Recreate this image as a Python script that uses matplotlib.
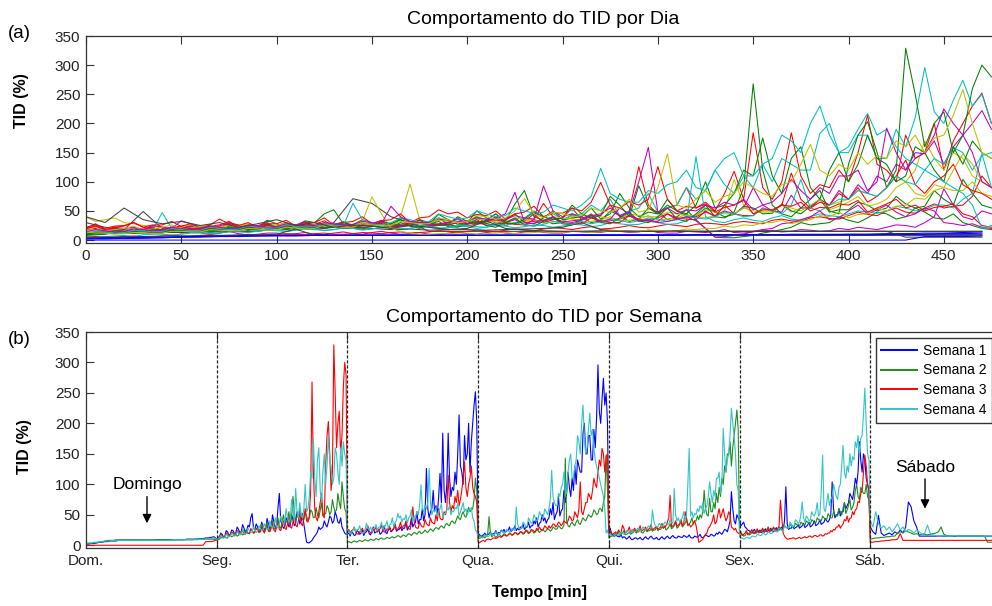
import numpy as np
import matplotlib
matplotlib.use("Agg")
import matplotlib.pyplot as plt

plt.rcParams['font.family'] = ['Liberation Sans', 'DejaVu Sans']

# ---------------- data (TID %, one day = 480 min; weekdays every 5 min, weekend every 10 min) ----------------
day_labels = ['Dom.', 'Seg.', 'Ter.', 'Qua.', 'Qui.', 'Sex.', 'Sáb.']
week_labels = ['Semana 1', 'Semana 2', 'Semana 3', 'Semana 4']

# Semana 1
w1_dom = [2,2,3,3,4,5,5,6,6,7,7,7,8,8,8,8,8,8,8,8,8,8,8,8,8,8,9,9,9,9,9,9,9,9,9,9,9,10,10,10,10,10,11,11,12,12,13,14]
w1_seg = [10,13,14,20,18,12,15,24,22,16,18,25,24,19,20,30,26,21,22,34,28,20,24,33,30,45,52,28,26,35,30,22,24,38,32,25,28,44,35,27,
          30,50,38,29,32,62,85,40,34,28,30,45,40,30,33,50,42,32,36,55,48,35,40,52,35,20,5,4,4,6,8,12,15,18,22,30,26,28,30,40,
          34,30,38,48,45,36,40,55,48,38,36,45,30,25,20,18]
w1_ter = [18,20,15,22,20,16,17,24,22,18,20,25,16,21,22,27,19,17,24,30,20,22,22,26,18,20,24,32,21,19,25,28,22,24,27,35,23,25,26,30,
          24,28,28,38,25,30,32,45,30,35,38,55,35,42,42,60,40,50,126,60,45,55,60,90,55,65,50,80,118,70,184,90,70,100,184,110,80,95,90,120,
          100,150,214,130,120,100,180,140,150,200,120,170,200,230,252,200]
w1_qua = [15,18,14,16,17,20,16,18,18,22,17,19,19,24,18,21,20,25,22,26,21,24,24,30,22,25,26,32,24,28,25,30,28,35,26,29,30,38,28,32,
          32,40,35,45,30,36,38,50,40,45,36,42,45,60,50,70,42,50,55,80,48,56,60,90,70,85,120,95,80,110,90,130,100,140,130,120,120,183,200,150,
          150,180,180,140,140,190,160,210,296,220,200,240,274,230,250,200]
w1_qui = [20,28,18,16,16,20,15,14,14,17,12,14,13,10,12,15,11,9,10,12,12,10,11,13,10,9,12,14,11,10,13,15,12,10,11,13,10,9,12,14,
          11,10,13,15,12,11,14,16,13,12,12,15,14,13,13,16,15,13,14,17,13,12,12,15,14,13,15,18,13,12,14,17,16,14,15,18,17,15,16,20,
          18,22,20,18,22,26,25,22,30,40,88,60,40,35,50,45]
w1_sex = [40,32,35,38,30,28,25,24,22,20,24,26,20,22,23,25,21,22,24,27,22,24,25,28,23,22,26,29,24,25,27,30,25,40,96,35,26,28,28,32,
          27,29,30,34,28,30,32,36,29,31,33,38,30,32,35,40,32,34,36,42,34,36,38,44,40,38,42,50,104,60,45,50,50,60,48,55,55,70,60,65,
          70,85,80,75,90,110,100,120,170,140,120,150,140,110,100,90]
w1_sab = [30,22,18,49,20,16,18,20,17,22,19,25,20,30,71,63,40,30,15,15,15,15,15,15,15,15,15,15,15,15,15,15,15,15,15,15,15,15,15,15,15,15,15,15,15,15,15,15]

# Semana 2
w2_dom = [3,3,3,4,4,5,6,7,8,8,8,9,9,9,9,9,9,9,9,9,9,9,9,9,9,9,9,9,9,9,9,9,9,9,9,9,9,9,9,9,10,10,10,10,10,10,10,10]
w2_seg = [8,9,10,13,12,15,14,12,12,18,16,14,15,20,18,15,16,22,20,17,18,25,22,19,20,27,24,20,22,28,25,22,28,35,24,22,30,38,26,24,
          32,40,28,26,34,45,30,28,38,50,35,38,40,55,36,45,80,55,40,48,45,60,50,42,42,55,48,40,44,58,55,45,46,62,50,45,58,70,48,52,
          52,65,60,50,55,75,62,55,58,85,70,60,104,80,60,55]
w2_ter = [5,6,5,4,6,7,6,5,7,8,7,6,8,9,8,7,8,10,9,8,9,11,10,9,11,12,10,10,11,13,12,11,13,14,12,13,14,16,15,13,
          15,17,16,14,17,19,18,16,19,21,20,18,21,23,19,20,22,25,22,21,24,27,25,23,27,29,28,26,30,32,30,28,34,36,33,32,38,40,37,36,
          42,48,44,42,50,55,48,46,55,62,55,58,60,75,110,90]
w2_qua = [10,12,12,15,14,12,15,18,47,20,14,16,16,13,15,18,17,14,16,19,18,15,17,20,19,16,18,21,20,17,19,22,21,18,20,23,22,19,21,24,
          23,20,22,25,24,21,23,26,25,22,24,27,26,23,25,30,28,26,27,32,30,27,28,33,143,40,32,30,35,38,34,32,38,42,36,34,40,45,42,40,
          45,50,48,46,50,58,55,50,52,60,60,55,70,80,148,90]
w2_qui = [12,14,15,18,14,16,18,22,16,18,20,24,17,18,19,22,18,20,21,25,20,22,22,26,21,20,23,27,22,24,24,28,23,25,25,30,24,26,26,30,
          28,32,25,27,30,35,27,29,32,38,28,30,34,40,30,33,36,42,32,35,38,45,35,40,40,48,42,50,45,55,90,60,50,48,77,55,55,70,60,85,
          70,95,80,110,100,130,120,150,148,170,130,160,180,200,222,190]
w2_sex = [15,17,18,15,16,20,20,17,18,22,22,19,20,24,24,21,22,26,25,23,23,27,26,24,24,28,27,25,25,30,28,26,26,32,30,28,28,34,32,30,
          30,36,34,31,31,38,36,34,33,40,38,36,35,42,40,37,37,45,42,40,40,48,45,42,42,52,48,45,45,55,50,48,48,60,55,50,60,70,52,58,
          65,75,58,62,70,90,100,80,75,95,90,85,85,100,80,75]
w2_sab = [10,11,12,12,13,13,14,14,15,15,20,22,21,23,22,20,18,19,17,18,18,17,18,19,20,22,30,18,16,15,15,15,15,15,15,15,15,15,15,15,15,15,15,5,5,5,5,5]

# Semana 3
w3_dom = [0,0,0,0,0,0,0,0,0,0,0,0,0,0,0,0,0,0,0,0,0,0,0,0,0,0,0,0,0,0,0,0,0,0,0,0,0,0,0,0,0,0,0,0,6,6,6,7]
w3_seg = [10,11,12,18,15,13,14,20,18,15,16,22,20,16,17,24,22,18,18,26,20,18,24,20,19,27,25,20,21,28,26,21,22,30,24,20,27,32,23,22,
          28,35,25,22,30,38,26,24,32,40,28,26,35,45,30,28,38,48,33,30,40,55,36,32,45,60,40,38,48,90,268,120,60,45,40,55,70,85,50,45,
          130,180,203,150,90,120,329,250,160,200,220,150,180,260,300,280]
w3_ter = [22,26,20,24,25,30,22,19,18,22,24,28,21,24,26,32,23,21,20,26,25,30,22,25,27,33,24,22,21,27,26,31,23,25,28,34,25,27,30,38,
          27,32,32,40,29,27,26,35,63,40,30,28,28,38,33,30,30,42,36,33,32,45,38,36,35,50,40,60,45,42,42,55,50,60,115,70,55,65,60,80,
          70,90,65,75,90,110,137,95,80,100,110,130,95,85,80,70]
w3_qua = [5,4,6,7,8,6,9,10,10,9,10,12,12,11,12,14,14,13,15,17,16,15,17,19,18,17,18,21,20,18,19,22,22,20,20,25,24,21,21,26,
          25,23,22,28,25,30,26,24,27,32,29,27,32,28,31,35,34,30,33,38,36,32,35,40,38,36,40,48,45,40,42,55,50,45,60,104,55,50,60,70,
          70,85,80,75,90,110,100,95,120,140,130,159,150,120,145,150]
w3_qui = [18,24,16,19,20,22,18,25,22,20,33,28,20,22,24,30,21,23,25,28,22,24,26,32,23,25,27,30,24,26,28,34,25,27,29,31,26,28,30,36,
          28,30,32,38,45,82,30,32,34,40,31,33,35,42,32,36,55,45,33,35,30,32,36,40,33,20,5,6,8,10,15,18,20,28,30,35,40,50,35,38,
          50,60,45,52,60,48,40,45,55,50,30,28,25,28,22,20]
w3_sex = [18,22,16,18,20,24,17,19,22,26,19,21,23,27,20,22,24,28,21,23,25,30,22,24,26,30,23,25,27,32,74,45,20,15,12,10,10,11,11,12,
          12,10,11,12,13,11,12,13,14,12,13,15,15,13,14,16,16,14,15,17,17,15,16,19,18,20,20,24,22,26,25,30,30,34,28,32,35,42,40,48,
          38,44,45,55,50,58,60,72,70,85,90,120,148,130,100,90]
w3_sab = [5,5,6,6,7,7,8,8,9,9,10,19,8,8,8,8,8,8,8,8,8,8,8,8,8,8,8,8,8,8,8,8,8,8,8,8,8,8,8,8,8,8,8,8,8,8,8,8]

# Semana 4
w4_dom = [3,4,4,5,5,6,6,7,7,7,8,8,8,8,8,8,8,8,8,8,8,8,8,8,8,8,8,8,8,8,8,8,9,9,9,9,9,9,9,9,9,9,10,10,10,11,11,12]
w4_seg = [10,11,12,16,14,12,13,18,16,14,15,20,18,15,16,22,20,17,18,26,22,18,20,28,24,20,22,30,26,21,23,32,28,24,25,35,30,26,27,40,
          32,28,34,45,30,28,36,48,40,35,38,60,45,38,42,75,60,40,93,55,45,70,50,45,60,100,55,60,80,120,110,175,110,80,140,160,90,70,120,150,
          100,130,180,140,130,100,110,160,150,120,100,160,130,170,150,140]
w4_ter = [20,24,18,22,24,30,22,26,26,32,23,20,20,26,36,28,25,30,22,28,28,34,24,30,30,38,26,30,32,40,28,33,35,45,30,38,40,52,45,48,
          38,44,42,50,36,45,48,58,40,47,46,55,50,65,99,60,55,66,60,70,126,70,50,58,55,62,48,56,60,68,45,52,52,60,58,65,50,56,55,62,
          60,68,48,55,62,70,55,60,50,56,58,62,45,40,25,22]
w4_qua = [12,15,14,12,13,17,16,14,15,20,18,16,17,22,20,18,19,24,22,20,21,26,24,22,23,28,26,24,63,35,28,26,30,38,35,30,32,45,40,36,
          38,50,45,40,42,55,50,46,48,60,55,50,60,75,123,80,70,65,65,85,80,95,100,120,90,85,120,140,150,110,110,130,140,180,170,150,200,230,180,150,
          160,190,217,180,190,160,140,130,120,110,100,90,80,60,20,25]
w4_qui = [14,18,16,14,15,19,18,16,17,22,20,18,19,24,22,20,21,26,24,22,23,28,26,24,25,30,28,26,27,32,30,28,58,40,32,30,30,36,34,32,
          33,38,36,34,35,42,38,36,93,50,40,45,38,42,45,55,42,48,100,159,48,55,45,52,50,60,55,65,60,70,52,60,65,80,104,85,70,90,80,110,
          110,120,85,100,192,150,120,140,150,180,225,200,180,150,100,90]
w4_sex = [14,12,12,10,11,13,13,11,12,15,15,14,14,18,17,16,16,20,19,17,18,22,21,19,20,26,24,22,22,28,26,24,25,32,30,28,28,38,35,30,
          32,42,40,36,38,50,71,45,38,48,45,40,42,55,50,48,55,70,48,52,90,148,60,55,70,85,65,75,80,100,90,80,75,95,100,130,164,120,110,130,
          120,150,130,145,140,170,160,180,150,175,180,214,258,200,150,140]
w4_sab = [40,30,55,35,28,32,25,30,22,28,35,25,30,22,26,24,20,25,22,18,20,33,20,17,16,15,15,16,15,15,15,16,15,15,15,15,15,15,15,15,15,15,15,15,15,15,15,15]

weeks = [
    [w1_dom, w1_seg, w1_ter, w1_qua, w1_qui, w1_sex, w1_sab],
    [w2_dom, w2_seg, w2_ter, w2_qua, w2_qui, w2_sex, w2_sab],
    [w3_dom, w3_seg, w3_ter, w3_qua, w3_qui, w3_sex, w3_sab],
    [w4_dom, w4_seg, w4_ter, w4_qua, w4_qui, w4_sex, w4_sab],
]

# ---------------- styling ----------------
day_len = 480
cycle_colors = ['#0000FF', '#008000', '#FF0000', '#00BFBF', '#BF00BF', '#BFBF00', '#404040']
week_colors = ['#0000FF', '#1E8C1E', '#FF0000', '#33C4C4']
spine_col = '#333333'


def day_time(vals):
    return np.linspace(0, day_len, len(vals), endpoint=False)


W, H = 992, 606
fig = plt.figure(figsize=(W / 100, H / 100), dpi=100)

ax_left = 86 / W
ax_width = (1001 - 86) / W
ax1 = fig.add_axes([ax_left, 1 - 243 / H, ax_width, (243 - 36) / H])
ax2 = fig.add_axes([ax_left, 1 - 548.3 / H, ax_width, (548.3 - 332) / H])


def style_axes(ax):
    for s in ax.spines.values():
        s.set_color(spine_col)
        s.set_linewidth(0.9)
    ax.tick_params(direction='in', length=6, width=0.8, color=spine_col,
                   labelsize=11, labelcolor='#222222', top=True, right=True, pad=4)
    ax.set_ylim(-5, 350)
    ax.set_yticks(np.arange(0, 351, 50))


# ---- panel (a): every day of every week overlaid ----
for wk in weeks:
    for d, vals in enumerate(wk):
        ax1.plot(day_time(vals), vals, color=cycle_colors[d % 7], lw=0.75)
style_axes(ax1)
ax1.set_xlim(0, 480)
ax1.set_xticks(np.arange(0, 451, 50))
ax1.set_title('Comportamento do TID por Dia', fontsize=14, pad=9)
ax1.set_ylabel('TID (%)', fontsize=11.5, fontweight='bold')
ax1.set_xlabel('Tempo [min]', fontsize=11.5, fontweight='bold')
ax1.yaxis.set_label_coords(-0.062, 0.69)
ax1.xaxis.set_label_coords(0.496, -0.13)

# ---- panel (b): each week as a continuous series ----
for w, wk in enumerate(weeks):
    xs = np.concatenate([d * day_len + day_time(v) for d, v in enumerate(wk)])
    ys = np.concatenate([np.array(v, dtype=float) for v in wk])
    ax2.plot(xs, ys, color=week_colors[w], lw=0.8, label=week_labels[w])
for d in range(1, 7):
    ax2.axvline(d * day_len, color='#222222', lw=0.9, ls=(0, (2.5, 1.5)), zorder=3)
style_axes(ax2)
ax2.set_xlim(0, 7 * day_len)
ax2.set_xticks([d * day_len for d in range(7)])
ax2.set_xticklabels(day_labels)
ax2.set_title('Comportamento do TID por Semana', fontsize=14, pad=7)
ax2.set_ylabel('TID (%)', fontsize=11.5, fontweight='bold')
ax2.set_xlabel('Tempo [min]', fontsize=11.5, fontweight='bold')
ax2.yaxis.set_label_coords(-0.059, 0.47)
ax2.xaxis.set_label_coords(0.496, -0.17)

leg = ax2.legend(loc='upper left', bbox_to_anchor=(0.863, 0.972), borderaxespad=0,
                 fontsize=10, fancybox=False, framealpha=1, edgecolor='#333333',
                 handlelength=2.6, handletextpad=0.4, labelspacing=0.42,
                 borderpad=0.4)
leg.get_frame().set_linewidth(1.0)
for line in leg.get_lines():
    line.set_linewidth(1.4)

ax2.annotate('Domingo', xy=(224, 36), xytext=(224, 99), ha='center', va='center',
             fontsize=12.5,
             arrowprops=dict(arrowstyle='-|>', color='black', lw=1.0,
                             mutation_scale=13, shrinkA=1, shrinkB=0))
ax2.annotate('Sábado', xy=(3081, 60), xytext=(3081, 128), ha='center', va='center',
             fontsize=12.5,
             arrowprops=dict(arrowstyle='-|>', color='black', lw=1.0,
                             mutation_scale=13, shrinkA=1, shrinkB=0))

fig.text(8 / W, 1 - 34 / H, '(a)', fontsize=13.5, va='center', ha='left')
fig.text(8 / W, 1 - 340 / H, '(b)', fontsize=13.5, va='center', ha='left')

fig.savefig('out.png', dpi=100)
